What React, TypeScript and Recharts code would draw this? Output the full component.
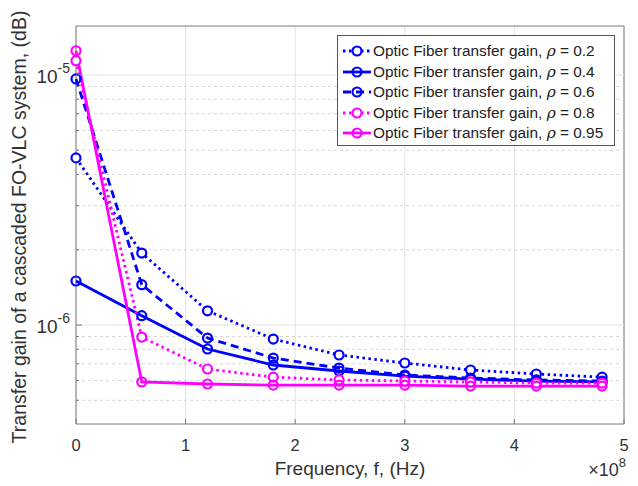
import { LineChart, Line, XAxis, YAxis, CartesianGrid, ReferenceLine, ReferenceArea } from 'recharts';

// frequency samples (Hz)
const freq = [0, 0.6e8, 1.2e8, 1.8e8, 2.4e8, 3.0e8, 3.6e8, 4.2e8, 4.8e8];

// transfer gain per rho
const gainRho02 = [4.66e-6, 1.94e-6, 1.14e-6, 8.79e-7, 7.59e-7, 7.05e-7, 6.61e-7, 6.37e-7, 6.19e-7];
const gainRho04 = [1.5e-6, 1.09e-6, 8.02e-7, 6.92e-7, 6.55e-7, 6.25e-7, 6.08e-7, 5.97e-7, 5.92e-7];
const gainRho06 = [9.64e-6, 1.45e-6, 8.87e-7, 7.38e-7, 6.73e-7, 6.31e-7, 6.14e-7, 6.03e-7, 5.97e-7];
const gainRho08 = [1.14e-5, 8.95e-7, 6.67e-7, 6.19e-7, 6.03e-7, 5.97e-7, 5.92e-7, 5.86e-7, 5.86e-7];
const gainRho095 = [1.25e-5, 5.92e-7, 5.81e-7, 5.75e-7, 5.75e-7, 5.75e-7, 5.7e-7, 5.7e-7, 5.7e-7];

const rhoValues = ['0.2', '0.4', '0.6', '0.8', '0.95'];

const xTicks = [0, 1e8, 2e8, 3e8, 4e8, 5e8];
const yMajor = [1e-6, 1e-5];
const yMinor = [5e-7, 6e-7, 7e-7, 8e-7, 9e-7, 2e-6, 3e-6, 4e-6, 5e-6, 6e-6, 7e-6, 8e-6, 9e-6];
const yDomain = [4.02e-7, 1.57e-5];

const gains = [gainRho02, gainRho04, gainRho06, gainRho08, gainRho095];
const keys = ['r02', 'r04', 'r06', 'r08', 'r095'];

const data = freq.map((f, i) => {
  const row: any = { f };
  keys.forEach((k, j) => { row[k] = gains[j][i]; });
  return row;
});

const BLUE = '#0000ff';
const MAGENTA = '#ff00ff';
const styles = [
  { color: BLUE, dash: '2.5 3.5', fill: '#fff' },
  { color: BLUE, dash: undefined, fill: 'none' },
  { color: BLUE, dash: '8 5', fill: 'none' },
  { color: MAGENTA, dash: '2.5 3.5', fill: '#fff' },
  { color: MAGENTA, dash: undefined, fill: 'none' },
];

const FONT = '"Liberation Sans", Arial, Helvetica, sans-serif';
const AXIS = '#7a7a7a';
const TXT = '#333';

const isMajor = (v: number) => yMajor.some((m) => Math.abs(m - v) / m < 1e-6);

const XTick = ({ x, y, payload }: any) => (
  <g>
    <line x1={x} x2={x} y1={y} y2={y - 5} stroke={AXIS} />
    <text x={x} y={y + 27} textAnchor="middle" fontSize={16.5} fill={TXT} fontFamily={FONT}>
      {Math.round(payload.value / 1e8)}
    </text>
  </g>
);

const XTopTick = ({ x, y }: any) => <line x1={x} x2={x} y1={y} y2={y + 5} stroke={AXIS} />;

const YTick = ({ x, y, payload }: any) => {
  const major = isMajor(payload.value);
  if (!major) return <line x1={x} x2={x + 3} y1={y} y2={y} stroke={AXIS} />;
  const exp = Math.round(Math.log10(payload.value));
  return (
    <g>
      <line x1={x} x2={x + 6} y1={y} y2={y} stroke={AXIS} />
      <text x={x - 6} y={y + 8} textAnchor="end" fontSize={19} fill={TXT} fontFamily={FONT}>
        <tspan>10</tspan>
        <tspan dy={-10} fontSize={14}>{String(exp)}</tspan>
      </text>
    </g>
  );
};

const YRightTick = ({ x, y, payload }: any) => {
  const len = isMajor(payload.value) ? 6 : 3;
  return <line x1={x} x2={x - len} y1={y} y2={y} stroke={AXIS} />;
};

const YLabel = ({ viewBox }: any) => {
  const cx = viewBox.x + 21;
  const cy = viewBox.y + viewBox.height / 2 + 2;
  return (
    <text
      x={cx}
      y={cy}
      transform={`rotate(-90, ${cx}, ${cy})`}
      textAnchor="middle"
      dominantBaseline="middle"
      fontSize={19.5}
      fill={TXT}
      fontFamily={FONT}
    >
      Transfer gain of a cascaded FO-VLC system, (dB)
    </text>
  );
};

const XLabel = ({ viewBox }: any) => (
  <g fontFamily={FONT} fill={TXT}>
    <text x={viewBox.x + viewBox.width / 2} y={viewBox.y + 51} textAnchor="middle" fontSize={19}>
      Frequency, f, (Hz)
    </text>
    <text x={viewBox.x + viewBox.width + 2} y={viewBox.y + 52} textAnchor="end" fontSize={18}>
      <tspan>×10</tspan>
      <tspan dy={-9} fontSize={13}>8</tspan>
    </text>
  </g>
);

const LegendSample = ({ color, dash, fill }: any) => (
  <svg width={32} height={20}>
    <line x1={3} x2={31} y1={10} y2={10} stroke={color} strokeWidth={2.8} strokeDasharray={dash} />
    <circle cx={17} cy={10} r={4.5} stroke={color} strokeWidth={2.2} fill={fill} />
  </svg>
);

export default function App() {
  return (
    <div style={{ position: 'absolute', left: 0, top: 0, width: 638, height: 486, background: '#fff' }}>
      <LineChart width={638} height={486} data={data} margin={{ top: 26, right: 14, bottom: 0, left: 0 }}>
        <CartesianGrid horizontal={false} stroke="#e3e3e3" />
        {yMinor.map((v) => (
          <ReferenceLine key={'mn' + v} y={v} stroke="#d6d6d6" strokeDasharray="3 3" />
        ))}
        {yMajor.map((v) => (
          <ReferenceLine key={'mj' + v} y={v} stroke="#e3e3e3" />
        ))}
        <XAxis
          dataKey="f"
          type="number"
          domain={[0, 5e8]}
          ticks={xTicks}
          interval={0}
          height={62}
          tickSize={0}
          tickMargin={0}
          tickLine={false}
          axisLine={false}
          tick={<XTick />}
          label={(p: any) => <XLabel {...p} />}
        />
        <XAxis
          xAxisId="top"
          orientation="top"
          dataKey="f"
          type="number"
          domain={[0, 5e8]}
          ticks={xTicks}
          interval={0}
          height={0}
          tickSize={0}
          tickMargin={0}
          tickLine={false}
          axisLine={false}
          tick={<XTopTick />}
        />
        <YAxis
          scale="log"
          type="number"
          domain={yDomain}
          allowDataOverflow
          ticks={[...yMinor, ...yMajor]}
          interval={0}
          width={76}
          tickSize={0}
          tickMargin={0}
          tickLine={false}
          axisLine={false}
          tick={<YTick />}
          label={(p: any) => <YLabel {...p} />}
        />
        <YAxis
          yAxisId="right"
          orientation="right"
          scale="log"
          type="number"
          domain={yDomain}
          allowDataOverflow
          ticks={[...yMinor, ...yMajor]}
          interval={0}
          width={0}
          tickSize={0}
          tickMargin={0}
          tickLine={false}
          axisLine={false}
          tick={<YRightTick />}
        />
        <ReferenceArea x1={0} x2={5e8} y1={yDomain[0]} y2={yDomain[1]} fill="none" fillOpacity={0} stroke={AXIS} strokeWidth={1} />
        {keys.map((k, i) => (
          <Line
            key={k}
            dataKey={k}
            type="linear"
            stroke={styles[i].color}
            strokeWidth={2.8}
            strokeDasharray={styles[i].dash}
            dot={{ r: 4.5, stroke: styles[i].color, strokeWidth: 2.2, fill: styles[i].fill, strokeDasharray: 'none' }}
            isAnimationActive={false}
          />
        ))}
      </LineChart>
      <div
        style={{
          position: 'absolute',
          left: 337,
          top: 35,
          width: 278,
          height: 111,
          border: '1px solid #555',
          background: '#fff',
          fontFamily: FONT,
          fontSize: 15.4,
          color: '#222',
          boxSizing: 'border-box',
          paddingTop: 5,
        }}
      >
        {rhoValues.map((r, i) => (
          <div key={r} style={{ display: 'flex', alignItems: 'center', height: 20.5, paddingLeft: 2 }}>
            <LegendSample {...styles[i]} />
            <span style={{ marginLeft: 1, whiteSpace: 'nowrap' }}>
              Optic Fiber transfer gain,{' '}
              <span style={{ fontFamily: '"DejaVu Serif", serif', fontStyle: 'italic' }}>ρ</span> = {r}
            </span>
          </div>
        ))}
      </div>
    </div>
  );
}
